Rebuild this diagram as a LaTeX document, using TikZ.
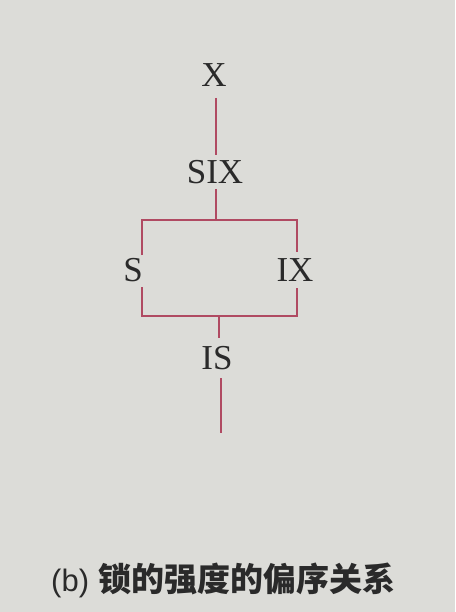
\documentclass[tikz,border=0pt]{standalone}
\usepackage{fontspec}
\setmainfont{Liberation Serif}
\newfontfamily\cjk{Noto Sans CJK SC}
\newfontfamily\capsans{Liberation Sans}
\definecolor{paper}{HTML}{DCDCD8}
\definecolor{ink}{HTML}{2A2A2A}
\definecolor{edge}{HTML}{B04A62}
\begin{document}
\begin{tikzpicture}[x=1pt,y=-1pt,
  lbl/.style={font=\fontsize{35}{35}\selectfont, text=ink, inner sep=0pt},
  conn/.style={draw=edge, line width=1.6pt}]
\fill[paper] (0,0) rectangle (455,612);
\useasboundingbox (0,0) rectangle (455,612);
\node[lbl] (X) at (214,75) {X};
\node[lbl] (SIX) at (215,172) {SIX};
\node[lbl] (S) at (133,270) {S};
\node[lbl] (IX) at (295,270) {IX};
\node[lbl] (IS) at (217,358) {IS};
\coordinate (tl) at (142,220);
\coordinate (tr) at (297,220);
\coordinate (bl) at (142,316);
\coordinate (br) at (297,316);
\coordinate (top) at (216,220);
\coordinate (bot) at (219,316);
\coordinate (end) at (221,433);
\draw[conn] (216,98) -- (216,155);
\draw[conn] (216,189) -- (top);
\draw[conn] (142,255) -- (tl) -- (tr) -- (297,252);
\draw[conn] (142,287) -- (bl) -- (br) -- (297,288);
\draw[conn] (bot) -- (219,338);
\draw[conn] (221,378) -- (end);
\node[text=ink, inner sep=0pt, anchor=west] (cap) at (51,580)
  {\capsans\fontsize{31}{31}\selectfont (b)\hspace{9pt}\cjk\bfseries\fontsize{33}{33}\selectfont 锁的强度的偏序关系};
\end{tikzpicture}
\end{document}
